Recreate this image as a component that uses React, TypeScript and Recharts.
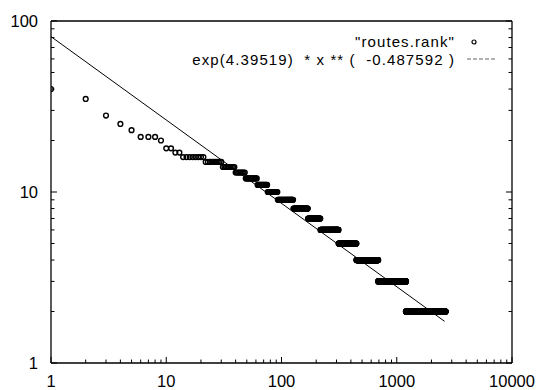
import React from "react";
import { ComposedChart, Line, Scatter, XAxis, YAxis } from "recharts";

// rank plot: [first rank, last rank, value]
const rankRuns: [number, number, number][] = [
  [1, 1, 40],
  [2, 2, 35],
  [3, 3, 28],
  [4, 4, 25],
  [5, 5, 23],
  [6, 8, 21],
  [9, 9, 20],
  [10, 11, 18],
  [12, 13, 17],
  [14, 21, 16],
  [22, 30, 15],
  [31, 39, 14],
  [40, 48, 13],
  [49, 61, 12],
  [62, 75, 11],
  [76, 92, 10],
  [93, 126, 9],
  [127, 169, 8],
  [170, 217, 7],
  [218, 312, 6],
  [313, 446, 5],
  [447, 690, 4],
  [691, 1200, 3],
  [1201, 2650, 2],
];

// fitted curve as printed in the key
const fitA = 4.39519;
const fitB = -0.487592;
const fitRange = [1, 2600];

const decadesX = [1, 10, 100, 1000];
const decadesY = [1, 10];
const minorSteps = [1, 2, 3, 4, 5, 6, 7, 8, 9];

const xTicks = [...decadesX.flatMap((d) => minorSteps.map((m) => d * m)), 10000];
const yTicks = [...decadesY.flatMap((d) => minorSteps.map((m) => d * m)), 100];

const rankData = rankRuns.flatMap(([from, to, value]) => {
  const pts: { x: number; y: number }[] = [];
  for (let r = from; r <= to; r++) pts.push({ x: r, y: value });
  return pts;
});

const fitData = fitRange.map((x) => ({ x, y: Math.exp(fitA) * Math.pow(x, fitB) }));

const FONT = "'Liberation Sans', Arial, Helvetica, sans-serif";

function isMajor(v: number) {
  return Math.abs(Math.log10(v) - Math.round(Math.log10(v))) < 1e-9;
}

function BottomTick({ x, y, payload }: any) {
  const major = isMajor(payload.value);
  return (
    <g>
      <line x1={x} x2={x} y1={y} y2={y - (major ? 6 : 3.5)} stroke="#000" />
      {major && (
        <text x={x} y={y + 24} textAnchor="middle" fontSize={16.5} fontFamily={FONT} fill="#000">
          {payload.value}
        </text>
      )}
    </g>
  );
}

function TopTick({ x, y, payload }: any) {
  const major = isMajor(payload.value);
  return <line x1={x} x2={x} y1={y} y2={y + (major ? 6 : 3.5)} stroke="#000" />;
}

function LeftTick({ x, y, payload }: any) {
  const major = isMajor(payload.value);
  return (
    <g>
      <line x1={x} x2={x + (major ? 6 : 3.5)} y1={y} y2={y} stroke="#000" />
      {major && (
        <text x={x - 13} y={y + 6} textAnchor="end" fontSize={16.5} fontFamily={FONT} fill="#000">
          {payload.value}
        </text>
      )}
    </g>
  );
}

function RightTick({ x, y, payload }: any) {
  const major = isMajor(payload.value);
  return <line x1={x} x2={x - (major ? 6 : 3.5)} y1={y} y2={y} stroke="#000" />;
}

function RankDot(props: any) {
  return <circle cx={props.cx} cy={props.cy} r={2.4} fill="none" stroke="#000" strokeWidth={1.4} />;
}

const axisLine = { stroke: "#000", strokeWidth: 1.3 };

export default function App() {
  return (
    <div style={{ position: "absolute", left: 0, top: 0, width: 539, height: 390, background: "#fff" }}>
      <ComposedChart width={539} height={390} margin={{ top: 0, right: 0, bottom: 0, left: 0 }}>
        <XAxis
          xAxisId="bottom"
          dataKey="x"
          type="number"
          scale="log"
          domain={[1, 10000]}
          allowDataOverflow
          ticks={xTicks}
          interval={0}
          height={27}
          tickSize={0}
          tickMargin={0}
          tickLine={false}
          axisLine={axisLine}
          tick={(p: any) => <BottomTick {...p} />}
        />
        <XAxis
          xAxisId="top"
          orientation="top"
          type="number"
          scale="log"
          domain={[1, 10000]}
          allowDataOverflow
          ticks={xTicks}
          interval={0}
          height={21}
          tickSize={0}
          tickMargin={0}
          tickLine={false}
          axisLine={axisLine}
          tick={(p: any) => <TopTick {...p} />}
        />
        <YAxis
          yAxisId="left"
          dataKey="y"
          type="number"
          scale="log"
          domain={[1, 100]}
          allowDataOverflow
          ticks={yTicks}
          interval={0}
          width={51}
          tickSize={0}
          tickMargin={0}
          tickLine={false}
          axisLine={axisLine}
          tick={(p: any) => <LeftTick {...p} />}
        />
        <YAxis
          yAxisId="right"
          orientation="right"
          type="number"
          scale="log"
          domain={[1, 100]}
          allowDataOverflow
          ticks={yTicks}
          interval={0}
          width={27}
          tickSize={0}
          tickMargin={0}
          tickLine={false}
          axisLine={axisLine}
          tick={(p: any) => <RightTick {...p} />}
        />
        <Line
          xAxisId="bottom"
          yAxisId="left"
          data={fitData}
          dataKey="y"
          type="linear"
          stroke="#000"
          strokeWidth={1}
          dot={false}
          activeDot={false}
          isAnimationActive={false}
        />
        <Scatter
          xAxisId="bottom"
          yAxisId="left"
          data={rankData}
          dataKey="y"
          shape={RankDot}
          isAnimationActive={false}
        />
      </ComposedChart>
      <div style={{ position: "absolute", left: 0, top: 0, width: 539, fontFamily: FONT, fontSize: 15, color: "#000" }}>
        <div style={{ position: "absolute", right: 84, top: 32.5, whiteSpace: "pre", lineHeight: "18px", letterSpacing: 1.1 }}>
          "routes.rank"
        </div>
        <div style={{ position: "absolute", right: 84, top: 50.5, whiteSpace: "pre", lineHeight: "18px", letterSpacing: 1.1 }}>
          {"exp(4.39519)  * x ** (  -0.487592 )"}
        </div>
        <svg style={{ position: "absolute", left: 464, top: 34 }} width={34} height={34}>
          <circle cx={10} cy={8} r={2} fill="none" stroke="#000" strokeWidth={1.2} />
          <line x1={3} x2={31} y1={25} y2={25} stroke="#666" strokeWidth={1} strokeDasharray="4 2" />
        </svg>
      </div>
    </div>
  );
}
